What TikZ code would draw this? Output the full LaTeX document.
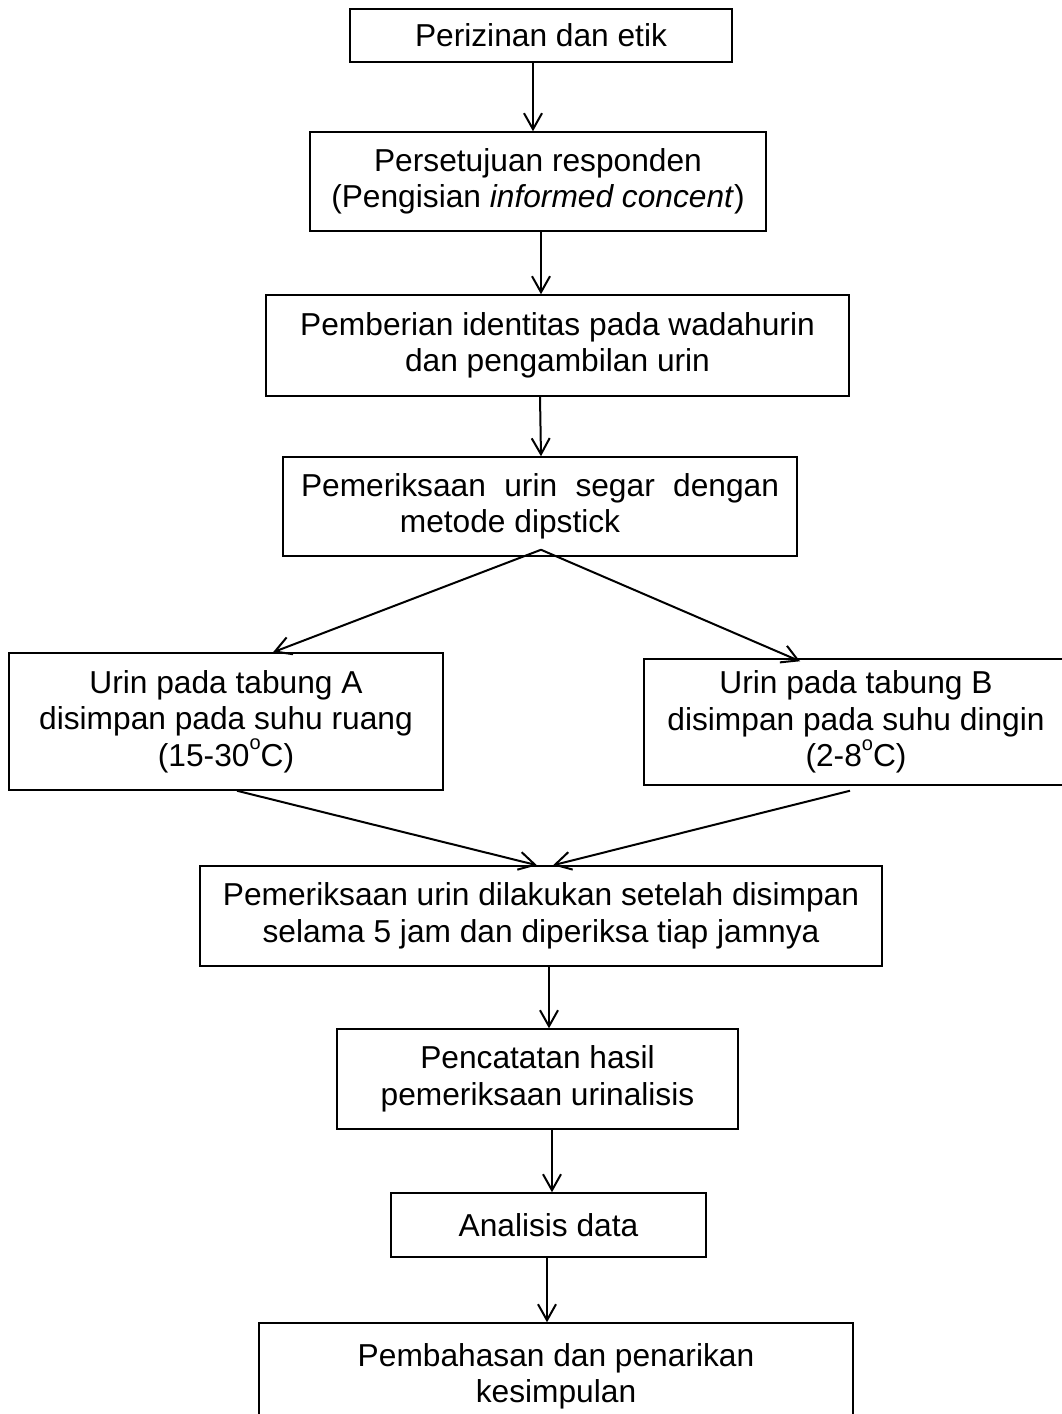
\documentclass[tikz,border=0pt]{standalone}
\usepackage{fontspec}
\setmainfont{Liberation Sans}
\usepackage{tikz}
\usetikzlibrary{arrows.meta, positioning, calc}
\newcommand{\Derajat}{\raisebox{0.52em}{\fontsize{20}{20}\selectfont o}}
\tikzset{
    box/.style={draw, line width=1.5pt, inner sep=0pt, align=center,
        font=\fontsize{31.7}{36.5}\selectfont},
    flow/.style={line width=2pt,
        -{Straight Barb[length=16pt, width=18pt, line width=2pt]}},
}

\begin{document}
\begin{tikzpicture}[x=1pt, y=-1pt]
    \useasboundingbox (0,0) rectangle (1062,1414);

    \node[box, minimum width=382pt, minimum height=53pt] (izin) at (541,35.5) {Perizinan dan etik};
    \node[box, minimum width=456pt, minimum height=99pt] (setuju) at (538,181.5)
        {Persetujuan responden\\(Pengisian \textit{informed concent})};
    \node[box, minimum width=583pt, minimum height=101pt] (identitas) at (557.5,345.5)
        {Pemberian identitas pada wadahurin\\dan pengambilan urin};
    \node[box, minimum width=514pt, minimum height=99pt] (dipstick) at (540,506.5)
        {\makebox[478pt][s]{Pemeriksaan urin segar dengan}\\metode dipstick\hspace*{60pt}};
    \node[box, minimum width=434pt, minimum height=137pt] (tabA) at (226,721.5)
        {Urin pada tabung A\\disimpan pada suhu ruang\\(15-30\Derajat C)};
    \node[box, minimum width=424pt, minimum height=126pt] (tabB) at (856,722)
        {Urin pada tabung B\\disimpan pada suhu dingin\\(2-8\Derajat C)};
    \node[box, minimum width=682pt, minimum height=100pt] (periksa) at (541,916)
        {Pemeriksaan urin dilakukan setelah disimpan\\selama 5 jam dan diperiksa tiap jamnya};
    \node[box, minimum width=401pt, minimum height=100pt] (catat) at (537.5,1079)
        {Pencatatan hasil\\pemeriksaan urinalisis};
    \node[box, minimum width=315pt, minimum height=64pt] (analisis) at (548.5,1225) {Analisis data};
    \node[box, minimum width=594pt, minimum height=107pt] (bahas) at (556,1376.5)
        {Pembahasan dan penarikan\\kesimpulan};

    \draw[flow] ([xshift=-8pt]izin.south) -- ([xshift=-5pt]setuju.north);
    \draw[flow] ([xshift=3pt]setuju.south) -- ([xshift=-16.5pt]identitas.north);
    \draw[flow] ([xshift=-17.5pt]identitas.south) -- ([xshift=1pt]dipstick.north);
    \draw[flow] ([xshift=1pt,yshift=7pt]dipstick.south) -- ([xshift=47pt]tabA.north);
    \draw[flow] ([xshift=1pt,yshift=7pt]dipstick.south) -- ([xshift=-56pt,yshift=-3pt]tabB.north);
    \draw[flow] ([xshift=11pt]tabA.south) -- ([xshift=-4pt]periksa.north);
    \draw[flow] ([xshift=-6pt,yshift=-5pt]tabB.south) -- ([xshift=12pt]periksa.north);
    \draw[flow] ([xshift=8pt]periksa.south) -- ([xshift=11.5pt]catat.north);
    \draw[flow] ([xshift=14.5pt]catat.south) -- ([xshift=3.5pt]analisis.north);
    \draw[flow] ([xshift=-1.5pt]analisis.south) -- ([xshift=-9pt]bahas.north);
\end{tikzpicture}
\end{document}
